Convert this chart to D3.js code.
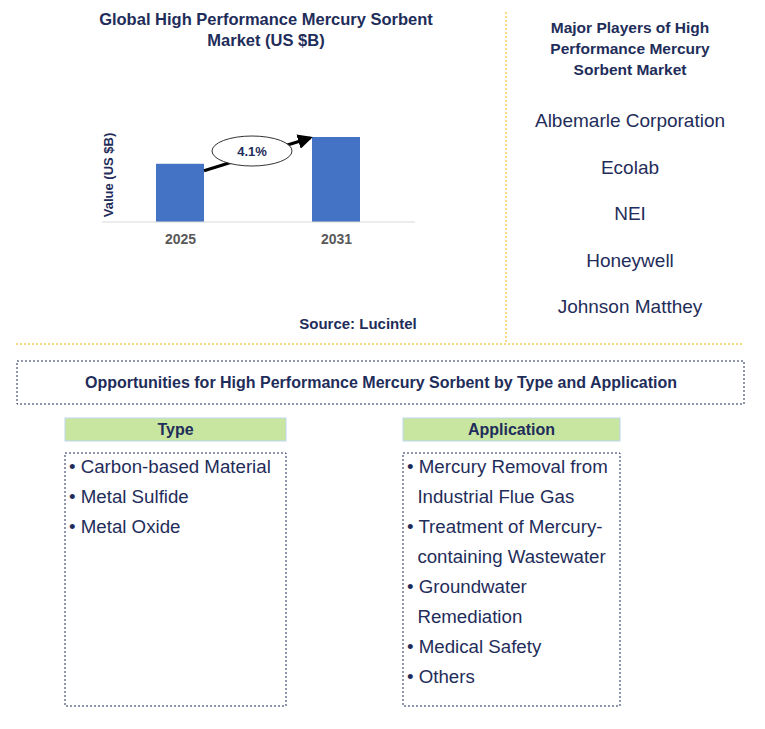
<!DOCTYPE html>
<html><head><meta charset="utf-8">
<script src="https://cdn.jsdelivr.net/npm/d3@7"></script>
<style>body{margin:0;background:#fff;font-family:Arial,"Liberation Sans",sans-serif}</style>
</head><body><svg id="c" width="765" height="729"></svg>
<script>
const years = ["2025","2031"];
const values = [0.87, 1.27];
const cagr = "4.1%";
const players = ["Albemarle Corporation","Ecolab","NEI","Honeywell","Johnson Matthey"];
const types = ["• Carbon-based Material","• Metal Sulfide","• Metal Oxide"];
const apps = ["• Mercury Removal from","  Industrial Flue Gas","• Treatment of Mercury-","  containing Wastewater","• Groundwater","  Remediation","• Medical Safety","• Others"];

const svg = d3.select("#c");
const navy = "#1f2d5a";
svg.append("defs").append("marker").attr("id","ah").attr("viewBox","0 0 10 10").attr("refX",8).attr("refY",5)
 .attr("markerWidth",5).attr("markerHeight",5).attr("orient","auto")
 .append("path").attr("d","M0,0L10,5L0,10z").attr("fill","#000");

const title = svg.append("text").attr("x",266).attr("y",25).attr("text-anchor","middle")
 .attr("font-size",16.5).attr("font-weight","bold").attr("fill",navy);
title.append("tspan").attr("x",266).text("Global High Performance Mercury Sorbent");
title.append("tspan").attr("x",266).attr("dy",21).text("Market (US $B)");

const x = d3.scalePoint().domain(years).range([180,336]);
const bw = 48;
const y = d3.scaleLinear().domain([0,1.27]).range([222,137]);
svg.selectAll(".bar").data(values).join("rect").attr("x",(d,i)=>x(years[i])-bw/2).attr("y",d=>y(d))
 .attr("width",bw).attr("height",d=>222-y(d)).attr("fill","#4472c4");
svg.append("line").attr("x1",102).attr("x2",415).attr("y1",222).attr("y2",222).attr("stroke","#d9d9d9");
const ax = svg.append("g").attr("transform","translate(0,222)").call(d3.axisBottom(x).tickSize(0).tickPadding(12));
ax.select(".domain").remove();
ax.selectAll("text").attr("font-size",14).attr("font-weight","bold").attr("fill","#595959").attr("font-family","Arial");
svg.append("text").attr("transform","translate(113,175) rotate(-90)").attr("text-anchor","middle")
 .attr("font-size",13).attr("font-weight","bold").attr("fill",navy).text("Value (US $B)");

svg.append("line").attr("x1",x("2025")+bw/2).attr("y1",y(values[0])+7).attr("x2",x("2031")-bw/2-2).attr("y2",y(values[1])+1)
 .attr("stroke","#000").attr("stroke-width",3).attr("marker-end","url(#ah)");
svg.append("ellipse").attr("cx",252).attr("cy",151).attr("rx",40).attr("ry",15).attr("fill","#fff").attr("stroke","#333");
svg.append("text").attr("x",252).attr("y",156).attr("text-anchor","middle").attr("font-size",13).attr("font-weight","bold").attr("fill",navy).text(cagr);

svg.append("text").attr("x",358).attr("y",329).attr("text-anchor","middle").attr("font-size",15).attr("font-weight","bold").attr("fill",navy).text("Source: Lucintel");

svg.append("line").attr("x1",506).attr("y1",12).attr("x2",506).attr("y2",343).attr("stroke","#f0b400").attr("stroke-dasharray","2,2");
svg.append("line").attr("x1",16).attr("y1",344).attr("x2",744).attr("y2",344).attr("stroke","#f0b400").attr("stroke-dasharray","2,2");

const mp = svg.append("text").attr("text-anchor","middle").attr("font-size",15.5).attr("font-weight","bold").attr("fill",navy);
["Major Players of High","Performance Mercury","Sorbent Market"].forEach((t,i)=>mp.append("tspan").attr("x",630).attr("y",33+i*21).text(t));
svg.selectAll(".pl").data(players).join("text").attr("x",630).attr("y",(d,i)=>127+i*46.5).attr("text-anchor","middle")
 .attr("font-size",19).attr("fill",navy).text(d=>d);

svg.append("rect").attr("x",17).attr("y",361).attr("width",727).attr("height",43).attr("fill","none").attr("stroke",navy).attr("stroke-dasharray","2,2");
svg.append("text").attr("x",381).attr("y",388).attr("text-anchor","middle").attr("font-size",16).attr("font-weight","bold").attr("fill",navy)
 .text("Opportunities for High Performance Mercury Sorbent by Type and Application");

function panel(x0,w,head,items){
 svg.append("rect").attr("x",x0).attr("y",418).attr("width",w).attr("height",23).attr("fill","#c8e6a0").attr("stroke","#bdd7ee");
 svg.append("text").attr("x",x0+w/2).attr("y",435).attr("text-anchor","middle").attr("font-size",16).attr("font-weight","bold").attr("fill",navy).text(head);
 svg.append("rect").attr("x",x0).attr("y",453).attr("width",w).attr("height",253).attr("fill","none").attr("stroke",navy).attr("stroke-dasharray","2,2");
 svg.selectAll(null).data(items).join("text").attr("x",x0+4).attr("y",(d,i)=>473+i*30).attr("font-size",18.7).attr("fill",navy)
  .attr("xml:space","preserve").style("white-space","pre").text(d=>d);
}
panel(65,221,"Type",types);
panel(403,217,"Application",apps);
</script></body></html>
